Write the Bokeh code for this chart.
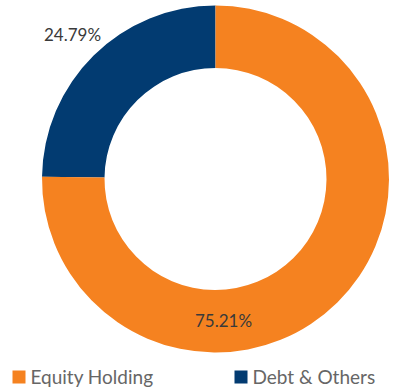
from math import pi
from bokeh.plotting import figure
from bokeh.models import Range1d
from bokeh.core.properties import value
from bokeh.embed import file_html
from bokeh.resources import INLINE

categories = ["Debt & Others", "Equity Holding"]
shares = [24.79, 75.21]
colors = ["#023b71", "#f58220"]
pct_labels = ["24.79%", "75.21%"]
legend_order = ["Equity Holding", "Debt & Others"]
legend_colors = ["#f58220", "#023b71"]

W, H = 406, 389
p = figure(width=W, height=H, output_backend="svg", toolbar_location=None,
           x_range=Range1d(0, W), y_range=Range1d(0, H),
           min_border=0)
p.axis.visible = False
p.grid.visible = False
p.outline_line_color = None
p.background_fill_color = None
p.border_fill_color = "white"

cx, cy = 215, 389 - 178.5
# wedges start at top, going counter-clockwise
starts, ends = [], []
a = pi / 2
for s in shares:
    b = a + s / 100 * 2 * pi
    starts.append(a)
    ends.append(b)
    a = b
p.annular_wedge(x=[cx] * 2, y=[cy] * 2, inner_radius=111, outer_radius=173.5,
                start_angle=starts, end_angle=ends, fill_color=colors,
                line_color=None)

# percentage labels
lx = [72, 223]
ly = [389 - 34, 389 - 320]
p.text(x=lx, y=ly, text=pct_labels, text_align="center", text_baseline="middle",
       text_font=value("Lato"), text_font_size="17px", text_color="#3a3a3a")

# legend
sq_x = [18.5, 240.5]
sq_y = [389 - 376.5] * 2
p.rect(x=sq_x, y=sq_y, width=13, height=13, fill_color=legend_colors, line_color=None)
p.text(x=[30, 252], y=[389 - 376] * 2, text=legend_order, text_align="left",
       text_baseline="middle", text_font=value("Lato"), text_font_size="19px",
       text_color="#666666")

open("out.html", "w").write(file_html(p, INLINE))
